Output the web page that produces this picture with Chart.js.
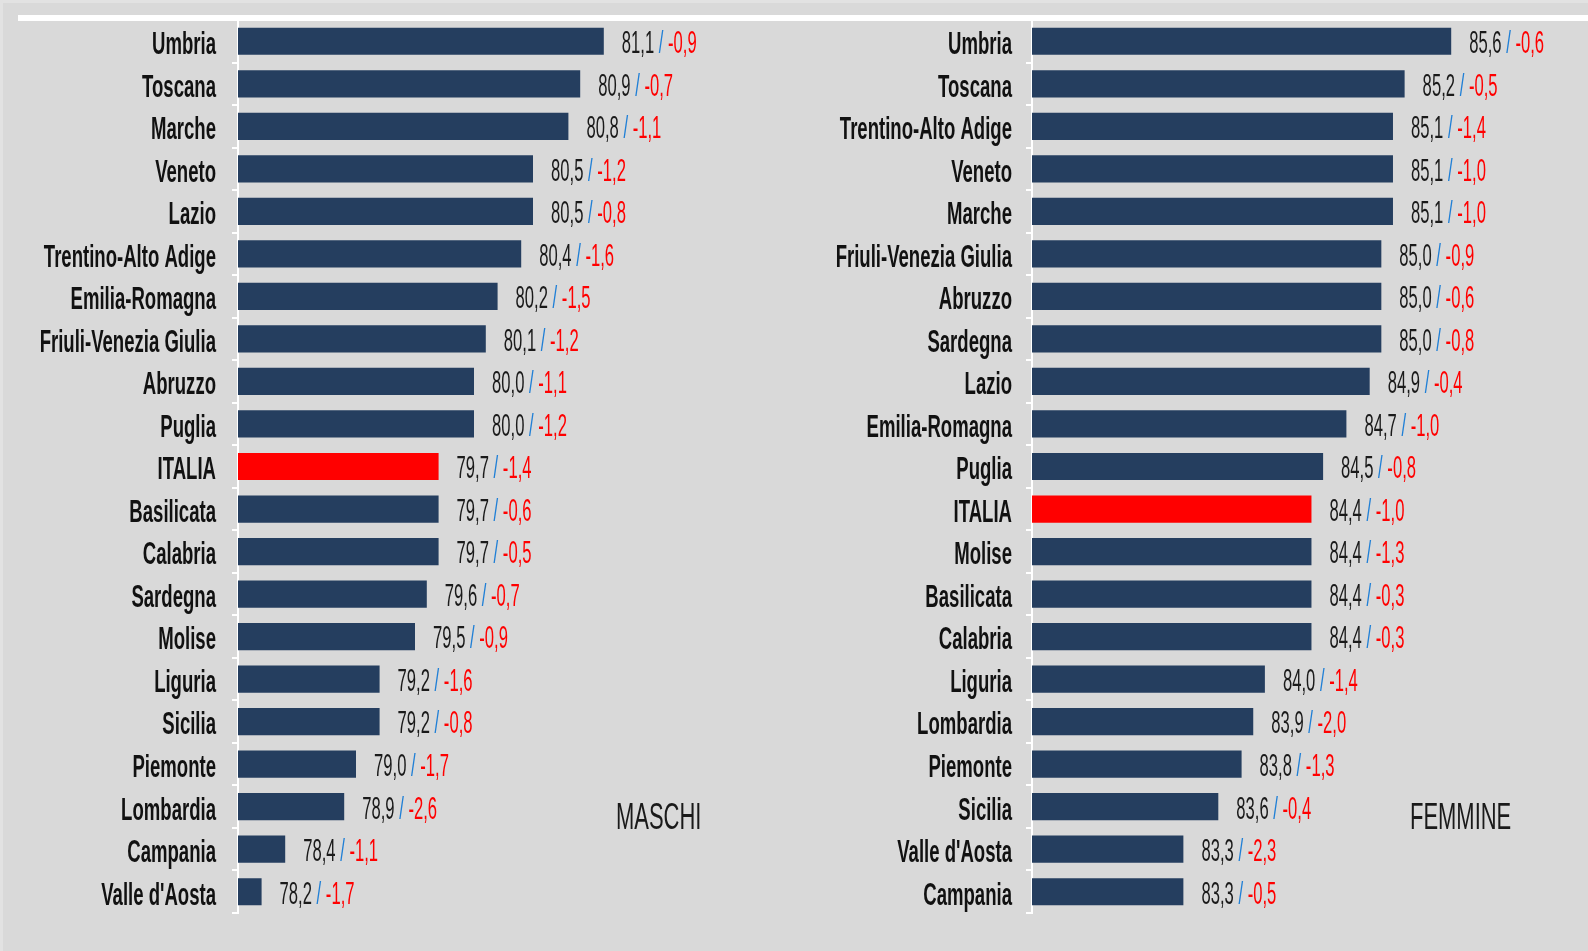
<!DOCTYPE html>
<html>
<head>
<meta charset="utf-8">
<script src="https://cdn.jsdelivr.net/npm/chart.js@4.4.0/dist/chart.umd.min.js"></script>
<style>
  body { margin: 0; background: #d9d9d9; width: 1588px; height: 951px; overflow: hidden; position: relative; }
  .edge-top { position: absolute; left: 0; top: 0; width: 1588px; height: 3px; background: #e2e2e2; }
  .edge-left { position: absolute; left: 0; top: 0; width: 3px; height: 951px; background: #e2e2e2; }
  .topline { position: absolute; left: 18px; top: 15px; right: 0; height: 6px; background: #ffffff; }
  canvas { position: absolute; top: 0; }
  .sex { position: absolute; top: 796px; font: 36px "Liberation Sans", Arial, sans-serif; color: #1a1a1a;
         transform: scaleX(0.61); transform-origin: left top; white-space: nowrap; }
</style>
</head>
<body>
<div class="edge-top"></div>
<div class="edge-left"></div>
<div class="topline"></div>
<canvas id="maschi" width="790" height="951" style="left:0"></canvas>
<canvas id="femmine" width="798" height="951" style="left:790px"></canvas>
<div class="sex" style="left:616px">MASCHI</div>
<div class="sex" style="left:1410px">FEMMINE</div>
<script>
const regioniMaschi = ['Umbria', 'Toscana', 'Marche', 'Veneto', 'Lazio', 'Trentino-Alto Adige', 'Emilia-Romagna',
  'Friuli-Venezia Giulia', 'Abruzzo', 'Puglia', 'ITALIA', 'Basilicata', 'Calabria', 'Sardegna', 'Molise',
  'Liguria', 'Sicilia', 'Piemonte', 'Lombardia', 'Campania', "Valle d'Aosta"];
const speranzaMaschi = [81.1, 80.9, 80.8, 80.5, 80.5, 80.4, 80.2, 80.1, 80.0, 80.0, 79.7, 79.7, 79.7, 79.6, 79.5,
  79.2, 79.2, 79.0, 78.9, 78.4, 78.2];
const variazioneMaschi = [-0.9, -0.7, -1.1, -1.2, -0.8, -1.6, -1.5, -1.2, -1.1, -1.2, -1.4, -0.6, -0.5, -0.7, -0.9,
  -1.6, -0.8, -1.7, -2.6, -1.1, -1.7];

const regioniFemmine = ['Umbria', 'Toscana', 'Trentino-Alto Adige', 'Veneto', 'Marche', 'Friuli-Venezia Giulia',
  'Abruzzo', 'Sardegna', 'Lazio', 'Emilia-Romagna', 'Puglia', 'ITALIA', 'Molise', 'Basilicata', 'Calabria',
  'Liguria', 'Lombardia', 'Piemonte', 'Sicilia', "Valle d'Aosta", 'Campania'];
const speranzaFemmine = [85.6, 85.2, 85.1, 85.1, 85.1, 85.0, 85.0, 85.0, 84.9, 84.7, 84.5, 84.4, 84.4, 84.4, 84.4,
  84.0, 83.9, 83.8, 83.6, 83.3, 83.3];
const variazioneFemmine = [-0.6, -0.5, -1.4, -1.0, -1.0, -0.9, -0.6, -0.8, -0.4, -1.0, -0.8, -1.0, -1.3, -0.3, -0.3,
  -1.4, -2.0, -1.3, -0.4, -2.3, -0.5];

const NAVY = '#253e5f';
const RED = '#ff0000';
const FONT = '"Liberation Sans", Arial, sans-serif';

const fmt = (v) => v.toFixed(1).replace('.', ',');

// draws text squeezed horizontally, like the condensed font of the original
function drawSquashed(ctx, text, x, y, sx, align) {
  ctx.save();
  ctx.translate(x, y);
  ctx.scale(sx, 1);
  ctx.textAlign = align;
  ctx.fillText(text, 0, 0);
  ctx.restore();
  return ctx.measureText(text).width * sx;
}

const labelsPlugin = {
  id: 'labelsPlugin',
  afterDatasetsDraw(chart, args, opts) {
    const ctx = chart.ctx;
    const yScale = chart.scales.y;
    const meta = chart.getDatasetMeta(0);
    const deltas = opts.deltas;
    ctx.save();
    ctx.textBaseline = 'middle';

    ctx.font = 'bold 32px ' + FONT;
    ctx.fillStyle = '#111111';
    yScale.getLabels().forEach((name, i) => {
      drawSquashed(ctx, name, opts.labelRight, yScale.getPixelForTick(i) + 4, 0.58, 'right');
    });

    ctx.font = '32px ' + FONT;
    meta.data.forEach((bar, i) => {
      const value = chart.data.datasets[0].data[i];
      let x = bar.x + 18;
      const y = bar.y + 3;
      const parts = [[fmt(value) + ' ', '#1a1a1a'], ['/', '#1f7fd6'], [' ' + fmt(deltas[i]), RED]];
      parts.forEach(([t, c]) => {
        ctx.fillStyle = c;
        x += drawSquashed(ctx, t, x, y, 0.52, 'left');
      });
    });
    ctx.restore();
  },
};

function makeChart(id, labels, values, deltas, axisWidth, xMin, xMax, padRight, labelRight) {
  const ctx = document.getElementById(id);
  return new Chart(ctx, {
    type: 'bar',
    data: {
      labels: labels,
      datasets: [{
        data: values,
        backgroundColor: labels.map((l) => (l === 'ITALIA' ? RED : NAVY)),
        barPercentage: 0.64,
        categoryPercentage: 1,
      }],
    },
    options: {
      indexAxis: 'y',
      responsive: false,
      animation: false,
      devicePixelRatio: 1,
      layout: { padding: { top: 20, bottom: 38, left: 0, right: padRight } },
      plugins: {
        legend: { display: false },
        tooltip: { enabled: false },
        labelsPlugin: { deltas: deltas, labelRight: labelRight },
      },
      scales: {
        x: { display: false, min: xMin, max: xMax },
        y: {
          border: { display: true, color: '#ffffff', width: 2 },
          grid: { drawOnChartArea: false, color: '#ffffff', lineWidth: 2, tickLength: 6 },
          ticks: { display: false },
          afterFit(scale) { scale.width = axisWidth; },
        },
      },
    },
    plugins: [labelsPlugin],
  });
}

makeChart('maschi', regioniMaschi, speranzaMaschi, variazioneMaschi, 238, 78, 82.5, 21, 216);
makeChart('femmine', regioniFemmine, speranzaFemmine, variazioneFemmine, 242, 82, 86.5, 32, 222);
</script>
</body>
</html>
